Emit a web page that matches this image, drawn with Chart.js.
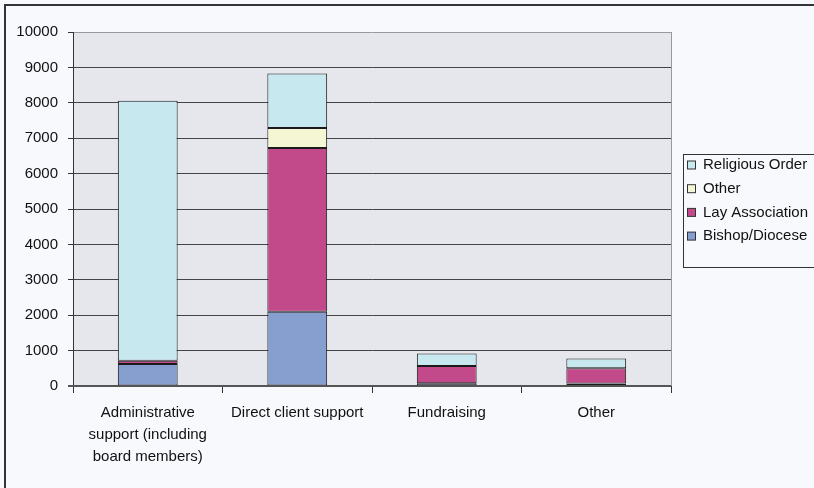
<!DOCTYPE html>
<html>
<head>
<meta charset="utf-8">
<script src="https://cdn.jsdelivr.net/npm/chart.js@4/dist/chart.umd.min.js"></script>
<style>
  html, body { margin: 0; padding: 0; background: #f7f9fc; }
  #wrap { position: relative; width: 814px; height: 488px; }
</style>
</head>
<body>
<div id="wrap"><canvas id="chart" width="814" height="488"></canvas></div>
<script>
// Staff numbers by role, split by sponsoring body
const categories = [
    ['Administrative', 'support (including', 'board members)'],
    'Direct client support',
    'Fundraising',
    'Other'
];
const bishopDiocese  = [620, 2100, 75, 70];
const layAssociation = [95, 4620, 490, 430];
const otherSponsor   = [0, 570, 0, 0];
const religiousOrder = [7345, 1540, 355, 280];
const yTicks = { min: 0, max: 10000, step: 1000 };

const FONT = 'Liberation Sans, Arial, sans-serif';
const FONT_SIZE = 15;

// page background, grey plot area, frame and the legend box
const decorations = {
    id: 'decorations',
    beforeDraw(chart) {
        const ctx = chart.ctx;
        const a = chart.chartArea;
        ctx.save();
        ctx.fillStyle = '#f7f9fc';
        ctx.fillRect(0, 0, chart.width, chart.height);
        ctx.fillStyle = '#e6e7ec';
        ctx.fillRect(a.left, a.top, a.right - a.left, a.bottom - a.top);
        ctx.strokeStyle = '#333';
        ctx.lineWidth = 2;
        ctx.strokeRect(5, 5, chart.width + 10, chart.height + 10);
        ctx.restore();
    },
    afterDatasetsDraw(chart) {
        const ctx = chart.ctx;
        const a = chart.chartArea;
        ctx.save();
        // plot frame on the right side
        ctx.strokeStyle = '#999';
        ctx.lineWidth = 1;
        ctx.beginPath();
        ctx.moveTo(a.right + 0.5, a.top);
        ctx.lineTo(a.right + 0.5, a.bottom);
        ctx.stroke();
        // zero line
        ctx.strokeStyle = '#555';
        ctx.lineWidth = 2;
        ctx.beginPath();
        ctx.moveTo(a.left - 5, a.bottom);
        ctx.lineTo(a.right, a.bottom);
        ctx.stroke();

        // legend, top series first
        ctx.strokeStyle = '#333';
        ctx.lineWidth = 1;
        ctx.strokeRect(683.5, 154.5, 140, 113);
        ctx.font = FONT_SIZE + 'px ' + FONT;
        ctx.textBaseline = 'middle';
        const sets = chart.data.datasets.slice().reverse();
        sets.forEach((ds, i) => {
            const y = 165 + i * 23.7;
            ctx.fillStyle = ds.backgroundColor;
            ctx.fillRect(687.5, y - 4, 8, 8);
            ctx.strokeStyle = '#333';
            ctx.strokeRect(687.5, y - 4, 8, 8);
            ctx.fillStyle = '#111';
            ctx.fillText(ds.label, 703, y);
        });
        ctx.restore();
    }
};

function series(label, data, color) {
    return {
        label: label,
        data: data,
        backgroundColor: color,
        borderColor: '#1a1a1a',
        borderWidth: 1,
        borderSkipped: false,
        barPercentage: 0.4,
        categoryPercentage: 1.0
    };
}

new Chart(document.getElementById('chart'), {
    type: 'bar',
    data: {
        labels: categories,
        datasets: [
            series('Bishop/Diocese', bishopDiocese, '#879fcf'),
            series('Lay Association', layAssociation, '#c24a8a'),
            series('Other', otherSponsor, '#f5f7d4'),
            series('Religious Order', religiousOrder, '#c8e8ef')
        ]
    },
    options: {
        responsive: false,
        animation: false,
        layout: { padding: { left: 0, top: 32, right: 143, bottom: 0 } },
        plugins: {
            legend: { display: false },
            tooltip: { enabled: false }
        },
        scales: {
            x: {
                stacked: true,
                afterFit(s) { s.height = 102; },
                grid: {
                    offset: true,
                    drawOnChartArea: false,
                    color: '#333',
                    tickLength: 7
                },
                border: { display: false },
                ticks: {
                    color: '#111',
                    padding: 9,
                    maxRotation: 0,
                    font: { family: FONT, size: FONT_SIZE, lineHeight: 1.47 }
                }
            },
            y: {
                stacked: true,
                min: yTicks.min,
                max: yTicks.max,
                afterFit(s) { s.width = 73; },
                grid: {
                    color: ctx => ctx.tick.value === yTicks.max ? '#9a9a9a'
                        : (ctx.tick.value === 0 ? 'rgba(0,0,0,0)' : '#444'),
                    tickColor: '#333',
                    tickLength: 5
                },
                border: { display: true, color: '#333' },
                ticks: {
                    stepSize: yTicks.step,
                    color: '#111',
                    padding: 10,
                    callback: v => String(v),
                    font: { family: FONT, size: FONT_SIZE }
                }
            }
        }
    },
    plugins: [decorations]
});
</script>
</body>
</html>
